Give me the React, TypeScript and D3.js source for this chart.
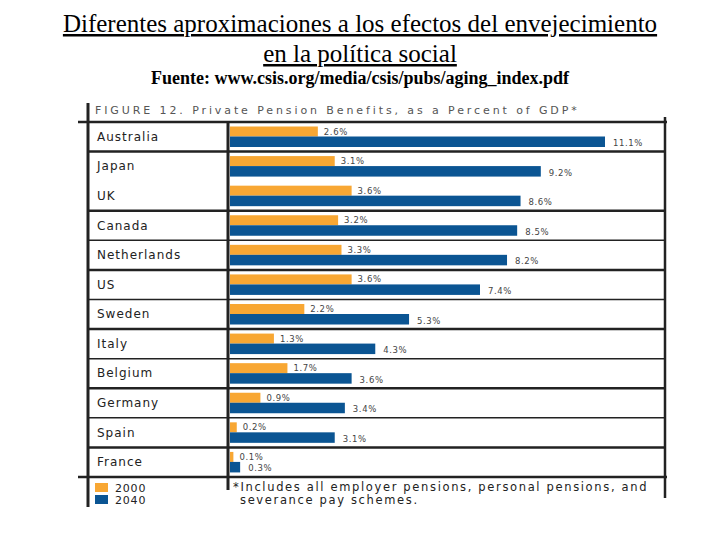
import { useRef, useEffect } from 'react';
import * as d3 from 'd3';

const countries = ['Australia', 'Japan', 'UK', 'Canada', 'Netherlands', 'US', 'Sweden', 'Italy', 'Belgium', 'Germany', 'Spain', 'France'];
const values2000 = [2.6, 3.1, 3.6, 3.2, 3.3, 3.6, 2.2, 1.3, 1.7, 0.9, 0.2, 0.1];
const values2040 = [11.1, 9.2, 8.6, 8.5, 8.2, 7.4, 5.3, 4.3, 3.6, 3.4, 3.1, 0.3];
const seriesNames = ['2000', '2040'];

const W = 720;
const H = 540;
const ORANGE = '#f8a733';
const BLUE = '#0b5593';
const sans = '"DejaVu Sans", sans-serif';

export default function App() {
    const svgRef = useRef<SVGSVGElement | null>(null);

    useEffect(() => {
        if (!svgRef.current) return;
        const svg = d3.select(svgRef.current);
        svg.selectAll('*').remove();

        svg.append('rect').attr('width', W).attr('height', H).attr('fill', '#fff');

        // slide title
        const serif = '"Liberation Serif", "Times New Roman", serif';
        svg.append('text').attr('x', 360).attr('y', 32).attr('text-anchor', 'middle')
            .style('font-family', serif).style('font-size', '25px').attr('text-decoration', 'underline')
            .text('Diferentes aproximaciones a los efectos del envejecimiento');
        svg.append('text').attr('x', 360).attr('y', 62).attr('text-anchor', 'middle')
            .style('font-family', serif).style('font-size', '25px').attr('text-decoration', 'underline')
            .text('en la política social');
        svg.append('text').attr('x', 360).attr('y', 84).attr('text-anchor', 'middle')
            .style('font-family', serif).style('font-size', '18px').style('font-weight', 'bold')
            .text('Fuente: www.csis.org/media/csis/pubs/aging_index.pdf');

        // figure caption
        svg.append('text').attr('x', 95).attr('y', 114)
            .style('font-family', sans).style('font-size', '11px').style('letter-spacing', '2.9px')
            .attr('fill', '#555')
            .text('FIGURE 12. Private Pension Benefits, as a Percent of GDP*');

        const x = d3.scaleLinear().domain([0, 11.1]).range([230, 605]);
        const y = d3.scaleBand().domain(countries).range([122, 477]);
        const bh = y.bandwidth();

        // frame lines
        const line = (x1: number, y1: number, x2: number, y2: number, w: number) =>
            svg.append('line').attr('x1', x1).attr('y1', y1).attr('x2', x2).attr('y2', y2)
                .attr('stroke', '#222').attr('stroke-width', w);

        const sepWidths = [2.5, 0, 2.5, 1.5, 2.5, 1.5, 2.5, 1.5, 2.5, 1.5, 2.5];
        countries.slice(1).forEach((c, i) => {
            if (sepWidths[i] > 0) line(88, y(c)!, 665, y(c)!, sepWidths[i]);
        });

        // bars
        const g = svg.append('g');
        g.selectAll('rect.b2000').data(countries).join('rect').attr('class', 'b2000')
            .attr('x', x(0)).attr('y', d => y(d)! + 4.5)
            .attr('width', (_, i) => x(values2000[i]) - x(0)).attr('height', 10)
            .attr('fill', ORANGE);
        g.selectAll('rect.b2040').data(countries).join('rect').attr('class', 'b2040')
            .attr('x', x(0)).attr('y', d => y(d)! + 14.5)
            .attr('width', (_, i) => x(values2040[i]) - x(0)).attr('height', 10.5)
            .attr('fill', BLUE);

        g.selectAll('text.l2000').data(countries).join('text').attr('class', 'l2000')
            .attr('x', (_, i) => x(values2000[i]) + 6).attr('y', d => y(d)! + 12.5)
            .style('font-family', sans).style('font-size', '8.5px').style('letter-spacing', '0.6px')
            .attr('fill', '#444')
            .text((_, i) => values2000[i].toFixed(1) + '%');
        g.selectAll('text.l2040').data(countries).join('text').attr('class', 'l2040')
            .attr('x', (_, i) => x(values2040[i]) + 8).attr('y', d => y(d)! + 24)
            .style('font-family', sans).style('font-size', '8.5px').style('letter-spacing', '0.6px')
            .attr('fill', '#444')
            .text((_, i) => values2040[i].toFixed(1) + '%');

        // country labels
        g.selectAll('text.country').data(countries).join('text').attr('class', 'country')
            .attr('x', 97).attr('y', d => y(d)! + bh / 2 + 4)
            .style('font-family', sans).style('font-size', '12px').style('letter-spacing', '1px')
            .attr('fill', '#222')
            .text(d => d);

        line(78, 122, 667, 122, 2.5);
        line(78, 477, 667, 477, 2.5);
        line(88, 103, 88, 507, 3);
        line(228, 122, 228, 490, 3);
        line(665, 117, 665, 498, 2.5);

        // legend
        const colors = [ORANGE, BLUE];
        const lg = svg.append('g');
        lg.selectAll('rect').data(seriesNames).join('rect')
            .attr('x', 95).attr('y', (_, i) => 483 + i * 12).attr('width', 13).attr('height', 9)
            .attr('fill', (_, i) => colors[i]);
        lg.selectAll('text').data(seriesNames).join('text')
            .attr('x', 115).attr('y', (_, i) => 492 + i * 12)
            .style('font-family', sans).style('font-size', '11px').style('letter-spacing', '0.8px')
            .attr('fill', '#222')
            .text(d => d);

        // footnote
        svg.append('text').attr('x', 233).attr('y', 491)
            .style('font-family', sans).style('font-size', '11.5px').style('letter-spacing', '1.65px')
            .attr('fill', '#222')
            .text('*Includes all employer pensions, personal pensions, and');
        svg.append('text').attr('x', 240).attr('y', 504)
            .style('font-family', sans).style('font-size', '11.5px').style('letter-spacing', '1.65px')
            .attr('fill', '#222')
            .text('severance pay schemes.');
    }, []);

    return (
        <svg ref={svgRef} width={W} height={H}
            style={{ position: 'absolute', left: 0, top: 0, display: 'block' }} />
    );
}
